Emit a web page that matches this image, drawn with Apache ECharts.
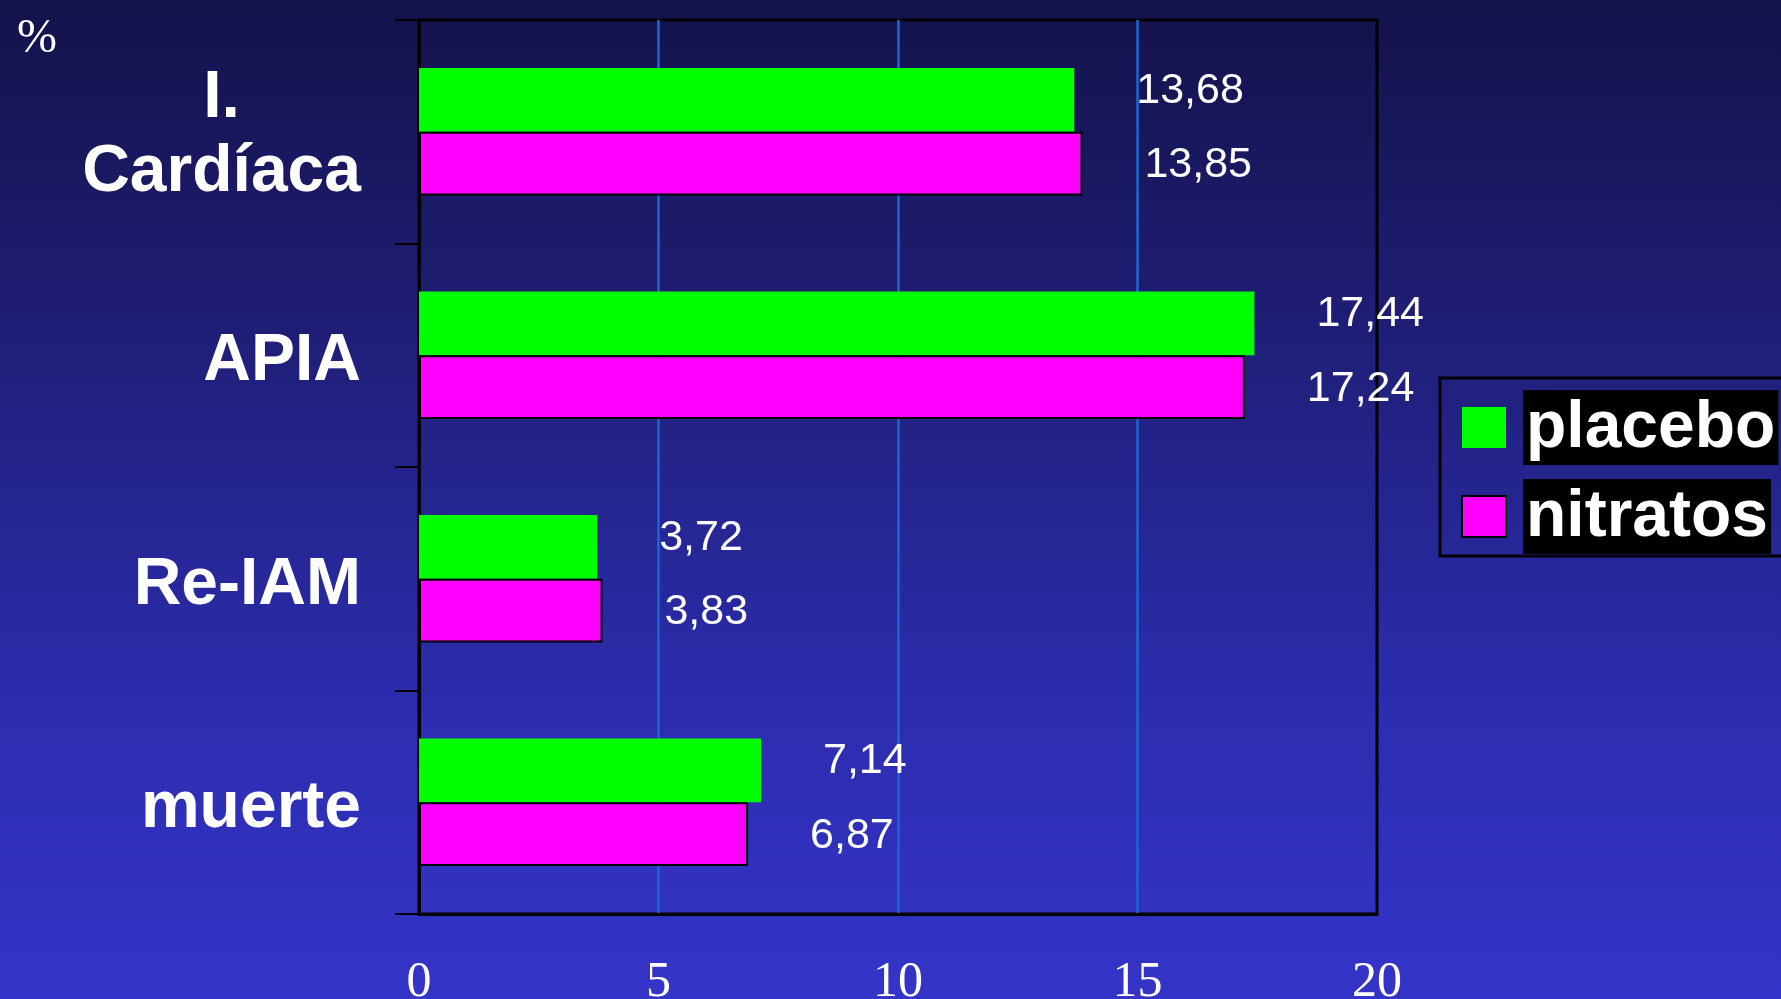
<!DOCTYPE html>
<html>
<head>
<meta charset="utf-8">
<title>placebo vs nitratos</title>
<script src="https://cdn.jsdelivr.net/npm/echarts@6/dist/echarts.min.js"></script>
<style>
  html, body { margin: 0; padding: 0; }
  #chart { width: 1781px; height: 999px; }
</style>
</head>
<body>
<div id="chart"></div>
<script>
// categorias (de arriba a abajo)
var categorias = ['I.\nCardíaca', 'APIA', 'Re-IAM', 'muerte'];
var placebo = [13.68, 17.44, 3.72, 7.14];
var nitratos = [13.85, 17.24, 3.83, 6.87];
var ticksX = [0, 5, 10, 15, 20];

var chart = echarts.init(document.getElementById('chart'));

function coma(v) {
  return v.toFixed(2).replace('.', ',');
}

var catStyle = {
  align: 'center',
  color: '#fff',
  fontFamily: 'Liberation Sans',
  fontWeight: 'bold',
  fontSize: 66,
  lineHeight: 74
};

var option = {
  backgroundColor: new echarts.graphic.LinearGradient(0, 0, 0, 1, [
    { offset: 0, color: '#14124a' },
    { offset: 0.27, color: '#1d1c6e' },
    { offset: 0.72, color: '#2c2db0' },
    { offset: 1, color: '#3434c8' }
  ]),
  animation: false,
  title: {
    text: '%',
    left: 12,
    top: 10,
    textStyle: {
      color: '#fff',
      fontFamily: 'Liberation Serif',
      fontWeight: 'normal',
      fontSize: 48
    }
  },
  legend: {
    orient: 'vertical',
    left: 1440,
    top: 378,
    padding: [12, 30, 2, 21],
    itemGap: 14,
    itemWidth: 44,
    itemHeight: 41,
    borderColor: '#000',
    borderWidth: 3,
    icon: 'rect',
    data: ['placebo', 'nitratos'],
    formatter: function (name) {
      return '{g|}{t|' + name + '}';
    },
    textStyle: {
      rich: {
        g: { width: 12 },
        t: {
          color: '#fff',
          backgroundColor: '#000',
          fontFamily: 'Liberation Sans',
          fontWeight: 'bold',
          fontSize: 66,
          padding: [6, 3, 3, 3]
        }
      }
    }
  },
  grid: {
    left: 419,
    right: 404,
    top: 20,
    bottom: 85,
    outerBoundsMode: 'none',
    containLabel: false,
    show: true,
    borderColor: '#000',
    borderWidth: 3
  },
  xAxis: {
    type: 'value',
    min: 0,
    max: 20,
    interval: 5,
    axisLine: { show: true, lineStyle: { color: '#000', width: 3 } },
    axisTick: { show: false },
    splitLine: {
      show: true,
      showMinLine: false,
      showMaxLine: false,
      lineStyle: { color: '#1768d4', width: 2.5 }
    },
    axisLabel: {
      color: '#fff',
      fontFamily: 'Liberation Serif',
      fontSize: 50,
      margin: 44,
      formatter: function (v) { return ticksX.indexOf(v) >= 0 ? String(v) : ''; }
    }
  },
  yAxis: {
    type: 'category',
    inverse: true,
    data: categorias,
    axisLine: { show: true, lineStyle: { color: '#000', width: 3 } },
    axisTick: { show: true, length: 24, lineStyle: { color: '#000', width: 2 } },
    axisLabel: {
      margin: 58,
      formatter: function (v) {
        var lines = v.split('\n');
        var tag = lines.length > 1 ? 'c' : 'd';
        return lines.map(function (s) { return '{' + tag + '|' + s + '}'; }).join('\n');
      },
      rich: {
        c: Object.assign({}, catStyle, { padding: [8, 0, 0, 0] }),
        d: Object.assign({}, catStyle, { padding: [14, 0, 0, 0] })
      }
    }
  },
  series: [
    {
      name: 'placebo',
      type: 'bar',
      data: placebo,
      barGap: '0%',
      barCategoryGap: '43%',
      itemStyle: { color: '#00ff00' },
      label: {
        show: true,
        position: 'right',
        distance: 62,
        offset: [0, -9],
        color: '#fff',
        fontFamily: 'Liberation Sans',
        fontSize: 43,
        formatter: function (p) { return coma(p.value); }
      }
    },
    {
      name: 'nitratos',
      type: 'bar',
      data: nitratos,
      itemStyle: { color: '#ff00ff', borderColor: '#000', borderWidth: 2 },
      label: {
        show: true,
        position: 'right',
        distance: 62,
        offset: [0, 2],
        color: '#fff',
        fontFamily: 'Liberation Sans',
        fontSize: 43,
        formatter: function (p) { return coma(p.value); }
      }
    }
  ]
};

chart.setOption(option);
</script>
</body>
</html>
